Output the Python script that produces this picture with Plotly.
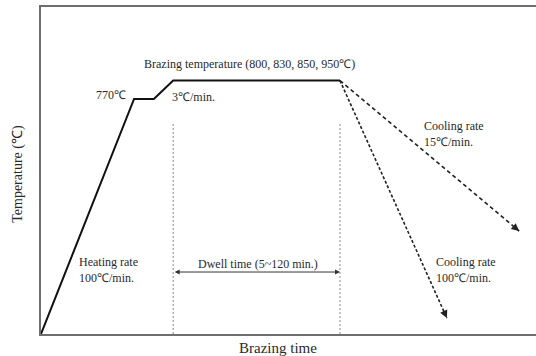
import plotly.graph_objects as go

# Thermal cycle (schematic): time in arbitrary units, temperature in deg C
profile_time = [0, 18.8, 22.8, 26.7, 60.4]
profile_temp = [0, 770, 770, 830, 830]

# Cooling branches from the end of the dwell
fast_cool_time = [60.4, 82.0]
fast_cool_temp = [830, 52]
slow_cool_time = [60.4, 96.6]
slow_cool_temp = [830, 337]

# Dwell window boundaries
dwell_start, dwell_end = 26.7, 60.4
dwell_line_top = 691
dwell_arrow_temp = 203

X_RANGE = [0, 100]
Y_RANGE = [0, 1071]

SERIF = "Liberation Serif, Times New Roman, serif"
TXT = "#2a2a2a"
FRAME = "#6e6e6e"

fig = go.Figure()

# dwell boundaries (thin dotted)
for xv in (dwell_start, dwell_end):
    fig.add_trace(go.Scatter(x=[xv, xv], y=[0, dwell_line_top], mode="lines",
                             line=dict(color="#8a8a8a", width=1, dash="2px,2px"),
                             hoverinfo="skip"))

# heating + dwell profile
fig.add_trace(go.Scatter(x=profile_time, y=profile_temp, mode="lines",
                         line=dict(color="#111111", width=2), hoverinfo="skip"))

# cooling branches (dashed)
fig.add_trace(go.Scatter(x=fast_cool_time, y=fast_cool_temp, mode="lines",
                         line=dict(color="#222222", width=1.6, dash="3px,2px"),
                         hoverinfo="skip"))
fig.add_trace(go.Scatter(x=slow_cool_time, y=slow_cool_temp, mode="lines",
                         line=dict(color="#222222", width=1.6, dash="4px,3px"),
                         hoverinfo="skip"))

annotations = []


def head(t0, y0, t1, y1):
    # short arrow segment near the branch end so only the head shows
    f = 0.04
    return dict(x=t1, y=y1, ax=t1 - (t1 - t0) * f, ay=y1 - (y1 - y0) * f,
                xref="x", yref="y", axref="x", ayref="y", text="",
                showarrow=True, arrowhead=2, arrowsize=1.1, arrowwidth=1.4,
                arrowcolor="#222222")


annotations.append(head(fast_cool_time[0], fast_cool_temp[0], fast_cool_time[1], fast_cool_temp[1]))
annotations.append(head(slow_cool_time[0], slow_cool_temp[0], slow_cool_time[1], slow_cool_temp[1]))

# dwell double arrow
annotations.append(dict(x=dwell_end, y=dwell_arrow_temp, ax=dwell_start, ay=dwell_arrow_temp,
                        xref="x", yref="y", axref="x", ayref="y", text="",
                        showarrow=True, arrowhead=2, arrowside="end+start",
                        arrowsize=1.0, arrowwidth=1, arrowcolor="#333333"))


def label(text, x, y, xanchor="left", size=12):
    return dict(text=text, x=x, y=y, xref="x", yref="y", xanchor=xanchor,
                yanchor="middle", showarrow=False, align="left",
                font=dict(family=SERIF, size=size, color=TXT))


annotations += [
    label("Brazing temperature (800, 830, 850, 950℃)", 42.2, 885, "center"),
    label("770℃", 17.6, 783, "right"),
    label("3℃/min.", 26.1, 776),
    label("Cooling rate<br>15℃/min.", 77.0, 655),
    label("Heating rate<br>100℃/min.", 7.3, 208),
    label("Dwell time (5~120 min.)", 43.8, 229, "center"),
    label("Cooling rate<br>100℃/min.", 79.4, 208),
]

# axis titles
annotations.append(dict(text="Brazing time", xref="paper", yref="paper", x=0.479, y=0,
                        yshift=-14, xanchor="center", yanchor="middle", showarrow=False,
                        font=dict(family=SERIF, size=15, color=TXT)))
annotations.append(dict(text="Temperature (℃)", xref="paper", yref="paper", x=0, y=0.49,
                        xshift=-23, textangle=-90, xanchor="center", yanchor="middle",
                        showarrow=False, font=dict(family=SERIF, size=14, color=TXT)))

fig.update_layout(
    width=536, height=356,
    margin=dict(l=41, r=0, t=7, b=22),
    paper_bgcolor="white", plot_bgcolor="white",
    showlegend=False,
    annotations=annotations,
    xaxis=dict(range=X_RANGE, showgrid=False, zeroline=False, showticklabels=False,
               ticks="", showline=True, mirror=True, linecolor=FRAME, linewidth=2,
               fixedrange=True),
    yaxis=dict(range=Y_RANGE, showgrid=False, zeroline=False, showticklabels=False,
               ticks="", showline=True, mirror=False, linecolor=FRAME, linewidth=2,
               fixedrange=True),
)

fig.write_html("out.html", config={"displayModeBar": False})
